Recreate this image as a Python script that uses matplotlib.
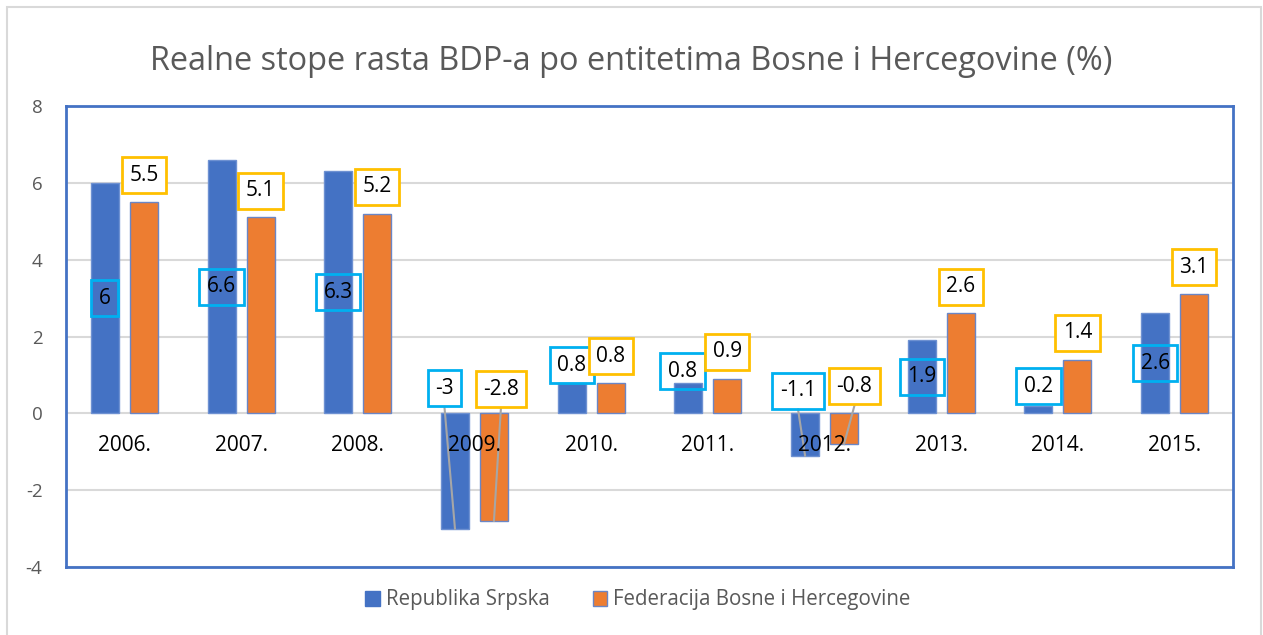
import matplotlib
matplotlib.use("Agg")
import matplotlib.pyplot as plt
from matplotlib.patches import Rectangle, Patch
import numpy as np

plt.rcParams['font.family'] = ['Open Sans', 'DejaVu Sans']
plt.rcParams['axes.unicode_minus'] = False

# ---- data ----
years = ["2006.", "2007.", "2008.", "2009.", "2010.", "2011.", "2012.", "2013.", "2014.", "2015."]
rs_values = [6, 6.6, 6.3, -3, 0.8, 0.8, -1.1, 1.9, 0.2, 2.6]
fbih_values = [5.5, 5.1, 5.2, -2.8, 0.8, 0.9, -0.8, 2.6, 1.4, 3.1]
series_names = ["Republika Srpska", "Federacija Bosne i Hercegovine"]
title = "Realne stope rasta BDP-a po entitetima Bosne i Hercegovine (%)"

# ---- label placement (manual positions as in the reference) ----
# y position of label centre (data units); None => default rule
rs_label_y = [None, None, None, 0.65, 1.25, 1.1, 0.59, None, 0.7, None]
rs_label_dx = [0, 0, 0, -0.09, 0, -0.05, -0.06, 0, 0, 0]
fb_label_y = [None, None, None, 0.63, 1.48, None, 0.7, None, None, None]
fb_label_dx = [0, 0, 0, 0.06, 0, 0, 0.09, 0, 0, 0]

BLUE = "#4472C4"
ORANGE = "#ED7D31"
GRAY_TXT = "#595959"
GRID = "#D9D9D9"

W, H = 1263, 635
fig = plt.figure(figsize=(W / 100, H / 100), dpi=100)
ax = fig.add_axes([66 / W, (H - 567) / H, (1233 - 66) / W, (567 - 106) / H])

# outer chart border
fig.patches.append(Rectangle((7 / W, -0.05), (1261 - 7) / W, (H - 7) / H + 0.05,
                             transform=fig.transFigure, fill=False,
                             edgecolor=GRID, linewidth=1.5, zorder=0))

x = np.arange(len(years))
bw = 0.24
off = 0.167
ax.bar(x - off, rs_values, bw, color=BLUE, edgecolor="#6E91D2", linewidth=1, zorder=3)
ax.bar(x + off, fbih_values, bw, color=ORANGE, edgecolor="#6A86C6", linewidth=1, zorder=3)

ax.set_xlim(-0.5, len(years) - 0.5)
ax.set_ylim(-4, 8)
ax.set_yticks(np.arange(-4, 9, 2))
ax.set_xticks([])
ax.yaxis.grid(True, color=GRID, linewidth=1.5, zorder=0)
ax.set_axisbelow(True)
ax.tick_params(axis='y', length=0, pad=17, labelsize=13.5, labelcolor=GRAY_TXT)
for s in ax.spines.values():
    s.set_color(BLUE)
    s.set_linewidth(2)

# category labels just below zero line
for i, yr in enumerate(years):
    ax.annotate(yr, (i, 0), xytext=(0, -32), textcoords='offset pixels',
                ha='center', va='center', fontsize=15, color='black', zorder=6)

FS = 15
half_box = 0.49
box_pad = 0.36
for i in range(len(years)):
    # Republika Srpska labels (cyan box, no fill)
    v = rs_values[i]
    ly = rs_label_y[i] if rs_label_y[i] is not None else v / 2
    lx = x[i] - off + rs_label_dx[i]
    if rs_label_y[i] is not None and v < 0:
        ax.plot([lx, x[i] - off], [ly - half_box, v], color="#A6A6A6", lw=1.5, zorder=4)
    ax.text(lx, ly, f"{v:g}", ha='center', va='center', fontsize=FS, color='black', zorder=7,
            bbox=dict(boxstyle=f'square,pad={box_pad}', facecolor='none', edgecolor='#00B0F0', linewidth=2))
    # FBiH labels (gold box, white fill)
    v = fbih_values[i]
    ly = fb_label_y[i] if fb_label_y[i] is not None else v + 0.7
    lx = x[i] + off + fb_label_dx[i]
    if fb_label_y[i] is not None and v < 0:
        ax.plot([lx, x[i] + off], [ly - half_box, v], color="#A6A6A6", lw=1.5, zorder=4)
    ax.text(lx, ly, f"{v:g}", ha='center', va='center', fontsize=FS, color='black', zorder=8,
            bbox=dict(boxstyle=f'square,pad={box_pad}', facecolor='white', edgecolor='#FFC000', linewidth=2))

fig.text(0.5, 1 - 62 / H, title, ha='center', va='center', fontsize=23.4,
         color=GRAY_TXT, fontweight='normal')

handles = [Patch(facecolor=BLUE, edgecolor=BLUE), Patch(facecolor=ORANGE, edgecolor="#6A86C6", linewidth=1)]
fig.legend(handles, series_names, loc='center', bbox_to_anchor=(638 / W, 1 - 600 / H),
           ncol=2, frameon=False, fontsize=14.8, labelcolor=GRAY_TXT,
           handlelength=0.7, handleheight=0.7, handletextpad=0.3, columnspacing=2.1)

fig.savefig("out.png", dpi=100)
